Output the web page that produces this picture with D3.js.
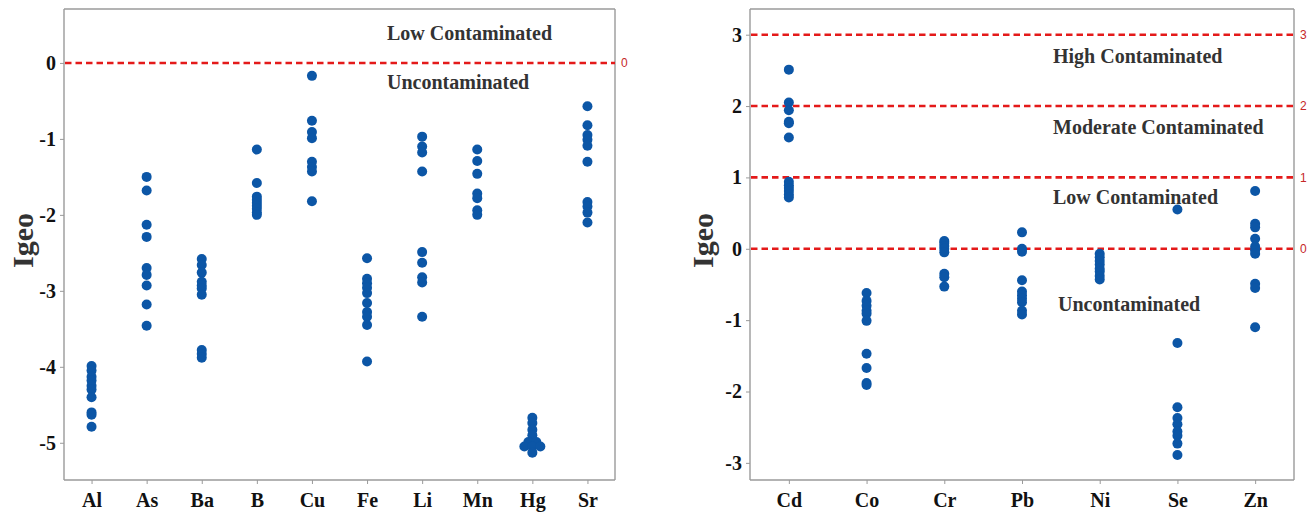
<!DOCTYPE html>
<html><head><meta charset="utf-8">
<script src="https://cdn.jsdelivr.net/npm/d3@7"></script>
<style>
html,body{margin:0;padding:0;background:#fff;}
svg{display:block;}
</style></head>
<body>
<svg id="chart" width="1314" height="515"></svg>
<script>
// ---------- Data ----------
const leftCategories = ["Al","As","Ba","B","Cu","Fe","Li","Mn","Hg","Sr"];
const valAl = [-3.99,-4.05,-4.13,-4.18,-4.25,-4.3,-4.4,-4.6,-4.63,-4.79];
const valAs = [-1.5,-1.68,-2.13,-2.29,-2.70,-2.79,-2.93,-3.18,-3.46];
const valBa = [-2.58,-2.66,-2.76,-2.88,-2.93,-2.97,-3.05,-3.78,-3.83,-3.88];
const valB  = [-1.14,-1.58,-1.76,-1.8,-1.84,-1.88,-1.92,-1.97,-2.0];
const valCu = [-0.17,-0.76,-0.91,-0.99,-1.3,-1.37,-1.43,-1.82];
const valFe = [-2.57,-2.84,-2.9,-2.96,-3.03,-3.16,-3.28,-3.34,-3.45,-3.93];
const valLi = [-0.97,-1.1,-1.18,-1.43,-2.49,-2.63,-2.82,-2.89,-3.34];
const valMn = [-1.14,-1.29,-1.46,-1.72,-1.78,-1.94,-2.0];
const valHg = [-4.67,-4.74,-4.83,-4.9,-4.99,-4.99,-5.05,-5.05,-5.05,-5.13];
const valSr = [-0.57,-0.82,-0.95,-1.01,-1.09,-1.30,-1.83,-1.89,-1.97,-2.1];
const leftValues = [valAl,valAs,valBa,valB,valCu,valFe,valLi,valMn,valHg,valSr];

const rightCategories = ["Cd","Co","Cr","Pb","Ni","Se","Zn"];
const valCd = [2.51,2.05,1.94,1.78,1.76,1.56,0.94,0.89,0.85,0.81,0.76,0.72];
const valCo = [-0.62,-0.73,-0.8,-0.87,-0.91,-1.01,-1.47,-1.67,-1.88,-1.91];
const valCr = [0.11,0.08,0.04,0.0,-0.05,-0.35,-0.4,-0.53];
const valPb = [0.23,0.0,-0.04,-0.44,-0.6,-0.65,-0.7,-0.75,-0.87,-0.92];
const valNi = [-0.07,-0.12,-0.17,-0.22,-0.28,-0.32,-0.38,-0.43];
const valSe = [0.55,-1.32,-2.22,-2.37,-2.46,-2.56,-2.62,-2.73,-2.89];
const valZn = [0.81,0.35,0.3,0.14,0.03,-0.02,-0.07,-0.49,-0.55,-1.1];
const rightValues = [valCd,valCo,valCr,valPb,valNi,valSe,valZn];

const leftTicks = [0,-1,-2,-3,-4,-5];
const rightTicks = [3,2,1,0,-1,-2,-3];
const leftThresholds = [0];
const rightThresholds = [3,2,1,0];
const leftZoneLabels = ["Low Contaminated","Uncontaminated"];
const leftZoneValues = [0.39,-0.25];
const rightZoneLabels = ["High Contaminated","Moderate Contaminated","Low Contaminated","Uncontaminated"];
const rightZoneValues = [2.70,1.70,0.73,-0.77];
const axisTitle = "Igeo";

// ---------- Drawing ----------
const svg = d3.select("#chart");
const SERIF = "'Liberation Serif','Times New Roman',serif";
const DOT = "#0c56a6";
const AXIS = "#9a9a9a";
const RED = "#e41a1a";

function panel(cfg){
  const {cats, values, domain, ticks, thresholds, zoneLabels, zoneValues, x0, x1, y0, y1, titleX, zoneX, zoneDx} = cfg;
  const x = d3.scalePoint().domain(cats).range([x0, x1]).padding(0.5);
  const y = d3.scaleLinear().domain(domain).range([y1, y0]);
  const g = svg.append("g");

  // frame (top & right)
  g.append("line").attr("x1",x0).attr("x2",x1).attr("y1",y0).attr("y2",y0)
    .attr("stroke",AXIS).attr("stroke-width",1.4);
  g.append("line").attr("x1",x1).attr("x2",x1).attr("y1",y0).attr("y2",y1)
    .attr("stroke",AXIS).attr("stroke-width",1.4);

  // axes
  const yAxis = g.append("g").attr("transform",`translate(${x0},0)`)
    .call(d3.axisLeft(y).tickValues(ticks).tickFormat(d=>String(d)).tickSize(4).tickPadding(4));
  const xAxis = g.append("g").attr("transform",`translate(0,${y1})`)
    .call(d3.axisBottom(x).tickSize(4).tickPadding(9));
  [yAxis,xAxis].forEach(a=>{
    a.select(".domain").attr("stroke",AXIS).attr("stroke-width",1.4);
    a.selectAll(".tick line").attr("stroke",AXIS).attr("stroke-width",1);
    a.selectAll(".tick text").attr("fill","#111").attr("font-family",SERIF)
      .attr("font-weight","bold").attr("font-size",20);
  });
  yAxis.select(".domain").attr("d",`M0,${y0}V${y1}`);
  xAxis.select(".domain").attr("d",`M${x0},0H${x1}`);

  // threshold lines
  thresholds.forEach(t=>{
    g.append("line").attr("x1",x0+1).attr("x2",x1).attr("y1",y(t)).attr("y2",y(t))
      .attr("stroke",RED).attr("stroke-width",2.6).attr("stroke-dasharray","6.5,4");
    g.append("text").attr("x",x1+6).attr("y",y(t)).attr("dy","0.35em")
      .attr("font-family","'Liberation Sans',Arial,sans-serif").attr("font-size",12)
      .attr("fill","#c62828").text(String(t));
  });

  // zone labels
  zoneLabels.forEach((lab,i)=>{
    g.append("text").attr("x",zoneX + (zoneDx[i]||0)).attr("y",y(zoneValues[i])).attr("dy","0.35em")
      .attr("font-family",SERIF).attr("font-weight","bold").attr("font-size",20)
      .attr("fill","#333").text(lab);
  });

  // points: ties are stacked side by side (centered)
  const pts = [];
  cats.forEach((c,ci)=>{
    const groups = d3.group(values[ci], v=>v);
    groups.forEach((arr,v)=>{
      const n = arr.length;
      arr.forEach((_,k)=>pts.push({cat:c, v, off:(k-(n-1)/2)*8}));
    });
  });
  g.append("g").selectAll("circle").data(pts).join("circle")
    .attr("cx",d=>x(d.cat)+d.off).attr("cy",d=>y(d.v)).attr("r",5).attr("fill",DOT);

  // y title
  g.append("text").attr("transform",`translate(${titleX},${(y0+y1)/2-4}) rotate(-90)`)
    .attr("text-anchor","middle").attr("dy","0.35em")
    .attr("font-family",SERIF).attr("font-weight","bold").attr("font-size",30)
    .attr("fill","#333").text(axisTitle);
}

panel({cats:leftCategories, values:leftValues, domain:[-5.49,0.71], ticks:leftTicks,
  thresholds:leftThresholds, zoneLabels:leftZoneLabels, zoneValues:leftZoneValues,
  x0:64, x1:615, y0:9, y1:480, titleX:22, zoneX:387, zoneDx:[0,0]});
panel({cats:rightCategories, values:rightValues, domain:[-3.24,3.36], ticks:rightTicks,
  thresholds:rightThresholds, zoneLabels:rightZoneLabels, zoneValues:rightZoneValues,
  x0:750, x1:1294, y0:9, y1:480, titleX:702, zoneX:1053, zoneDx:[0,0,0,5]});
</script>
</body></html>
